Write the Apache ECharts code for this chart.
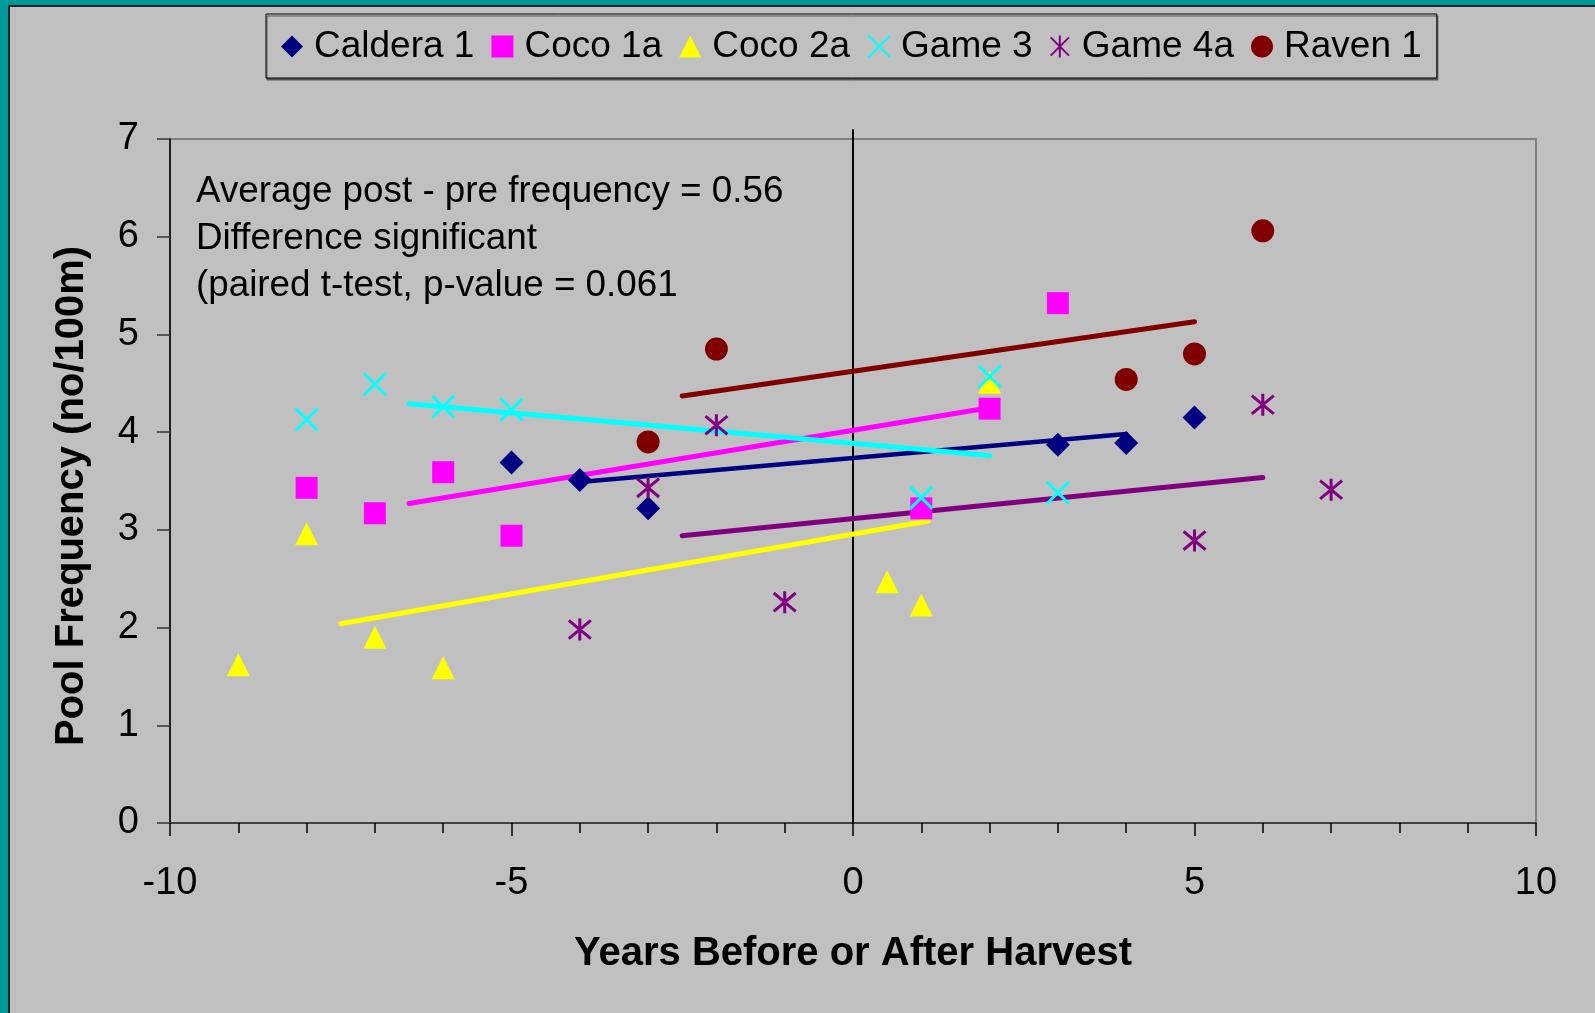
<!DOCTYPE html>
<html>
<head>
<meta charset="utf-8">
<script src="https://cdn.jsdelivr.net/npm/echarts@6/dist/echarts.min.js"></script>
<style>
html,body{margin:0;padding:0;background:#C0C0C0;}
#chart{width:1595px;height:1013px;}
</style>
</head>
<body>
<div id="chart"></div>
<script>
// ---- data ----
const seriesNames = ['Caldera 1', 'Coco 1a', 'Coco 2a', 'Game 3', 'Game 4a', 'Raven 1'];

const calderaX = [-5, -4, -3, 3, 4, 5];
const calderaY = [3.69, 3.51, 3.22, 3.87, 3.89, 4.15];

const coco1aX = [-8, -7, -6, -5, 1, 2, 3];
const coco1aY = [3.43, 3.17, 3.59, 2.94, 3.22, 4.24, 5.32];

const coco2aX = [-9, -8, -7, -6, 0.5, 1, 2];
const coco2aY = [1.62, 2.96, 1.90, 1.59, 2.47, 2.23, 4.51];

const game3X = [-8, -7, -6, -5, 1, 2, 3];
const game3Y = [4.13, 4.49, 4.26, 4.23, 3.33, 4.57, 3.38];

const game4aX = [-4, -3, -2, -1, 5, 6, 7];
const game4aY = [1.98, 3.43, 4.07, 2.26, 2.89, 4.28, 3.41];

const raven1X = [-3, -2, 4, 5, 6];
const raven1Y = [3.90, 4.85, 4.54, 4.80, 6.06];

// trend lines (start/end)
const calderaTrendX = [-4, 4];   const calderaTrendY = [3.49, 3.98];
const coco1aTrendX  = [-6.5, 2]; const coco1aTrendY  = [3.27, 4.25];
const coco2aTrendX  = [-7.5, 1.1]; const coco2aTrendY = [2.04, 3.09];
const game3TrendX   = [-6.5, 2]; const game3TrendY   = [4.29, 3.76];
const game4aTrendX  = [-2.5, 6]; const game4aTrendY  = [2.94, 3.535];
const raven1TrendX  = [-2.5, 5]; const raven1TrendY  = [4.37, 5.13];

// harvest reference line
const harvestLineX = [0, 0];
const harvestLineY = [0, 7.1];

const annotationLines = [
  'Average post - pre frequency = 0.56',
  'Difference significant',
  '(paired t-test, p-value = 0.061'
];

const xTicks = { min: -10, max: 10, interval: 5 };
const yTicks = { min: 0, max: 7, interval: 1 };

// ---- build ----
const FONT = 'Arial, "Liberation Sans", sans-serif';
const zip = (xs, ys) => xs.map((x, i) => [x, ys[i]]);
const colors = ['#000080', '#FF00FF', '#FFFF00', '#00FFFF', '#800080', '#800000'];
const symbols = [
  'diamond', 'rect', 'triangle',
  'path://M0,0L10,10M10,0L0,10',
  'path://M0,0L10,10M10,0L0,10M5,-1L5,11',
  'circle'
];
const symbolSizes = [24, 22, 23, 22, 22, 23];
const pointSets = [
  zip(calderaX, calderaY), zip(coco1aX, coco1aY), zip(coco2aX, coco2aY),
  zip(game3X, game3Y), zip(game4aX, game4aY), zip(raven1X, raven1Y)
];
const trendSets = [
  zip(calderaTrendX, calderaTrendY), zip(coco1aTrendX, coco1aTrendY), zip(coco2aTrendX, coco2aTrendY),
  zip(game3TrendX, game3TrendY), zip(game4aTrendX, game4aTrendY), zip(raven1TrendX, raven1TrendY)
];

const series = [];
trendSets.forEach((d, i) => {
  series.push({
    type: 'line', name: seriesNames[i] + ' trend', data: d,
    showSymbol: false, symbol: 'none', silent: true, z: 2,
    lineStyle: { color: colors[i], width: i === 0 ? 4.5 : 5, cap: 'round', opacity: 1 }
  });
});
series.push({
  type: 'line', name: 'harvest', data: zip(harvestLineX, harvestLineY),
  showSymbol: false, symbol: 'none', silent: true, clip: false, z: 1,
  lineStyle: { color: '#000', width: 2 }
});
pointSets.forEach((d, i) => {
  const stroked = i === 3 || i === 4;
  series.push({
    type: 'scatter', name: seriesNames[i], data: d,
    symbol: symbols[i], symbolSize: symbolSizes[i], z: 5,
    itemStyle: stroked
      ? { color: colors[i], borderColor: colors[i], borderWidth: 3, opacity: 1 }
      : { color: colors[i], opacity: 1 }
  });
});

const chart = echarts.init(document.getElementById('chart'), null, { renderer: 'canvas' });
chart.setOption({
  backgroundColor: '#C0C0C0',
  animation: false,
  textStyle: { fontFamily: FONT },
  grid: {
    left: 170, top: 139, right: 59, bottom: 190,
    show: true, borderColor: '#808080', borderWidth: 2, backgroundColor: 'transparent'
  },
  legend: {
    data: seriesNames,
    left: 266, top: 14,
    padding: [14, 15, 13, 15],
    itemWidth: 22, itemHeight: 22, itemGap: 17,
    borderColor: '#000', borderWidth: 1,
    shadowColor: '#555', shadowOffsetX: 1, shadowOffsetY: 2,
    backgroundColor: '#C0C0C0',
    formatter: '{a|{name}}',
    textStyle: {
      fontFamily: FONT, fontSize: 37, color: '#000',
      rich: { a: { fontFamily: FONT, fontSize: 37, color: '#000', padding: [0, 0, 0, 6] } }
    }
  },
  xAxis: {
    type: 'value', min: xTicks.min, max: xTicks.max, interval: xTicks.interval,
    name: 'Years Before or After Harvest', nameLocation: 'middle', nameGap: 111,
    nameTextStyle: { fontFamily: FONT, fontSize: 40, fontWeight: 'bold', color: '#000' },
    axisLine: { show: true, onZero: false, lineStyle: { color: '#404040', width: 2 } },
    axisTick: { show: true, inside: false, length: 13, lineStyle: { color: '#000', width: 1.5 } },
    minorTick: { show: true, splitNumber: 5, length: 10, lineStyle: { color: '#000', width: 1.5 } },
    splitLine: { show: false }, minorSplitLine: { show: false },
    axisLabel: { fontFamily: FONT, fontSize: 38, color: '#000', margin: 42 }
  },
  yAxis: {
    type: 'value', min: yTicks.min, max: yTicks.max, interval: yTicks.interval,
    name: 'Pool Frequency (no/100m)', nameLocation: 'middle', nameGap: 78,
    nameTextStyle: { fontFamily: FONT, fontSize: 40, fontWeight: 'bold', color: '#000', padding: [0, 30, 0, 0] },
    axisLine: { show: true, onZero: false, lineStyle: { color: '#000', width: 1.5 } },
    axisTick: { show: true, inside: false, length: 13, lineStyle: { color: '#333', width: 1.5 } },
    splitLine: { show: false },
    axisLabel: { fontFamily: FONT, fontSize: 38, color: '#000', margin: 31 }
  },
  graphic: [
    { type: 'rect', left: 0, top: 0, shape: { width: 1595, height: 5 }, style: { fill: '#009999' }, z: 100 },
    { type: 'rect', left: 0, top: 0, shape: { width: 8, height: 1013 }, style: { fill: '#009999' }, z: 100 },
    { type: 'rect', left: 8, top: 5, shape: { width: 1587, height: 2 }, style: { fill: '#1a2a2a' }, z: 100 },
    { type: 'rect', left: 8, top: 5, shape: { width: 2, height: 1008 }, style: { fill: '#1a2a2a' }, z: 100 },
    {
      type: 'text', left: 196, top: 168, z: 50,
      style: {
        text: annotationLines.join('\n'),
        font: '36.8px ' + FONT, fill: '#000', lineHeight: 47
      }
    }
  ],
  series: series
});
</script>
</body>
</html>
